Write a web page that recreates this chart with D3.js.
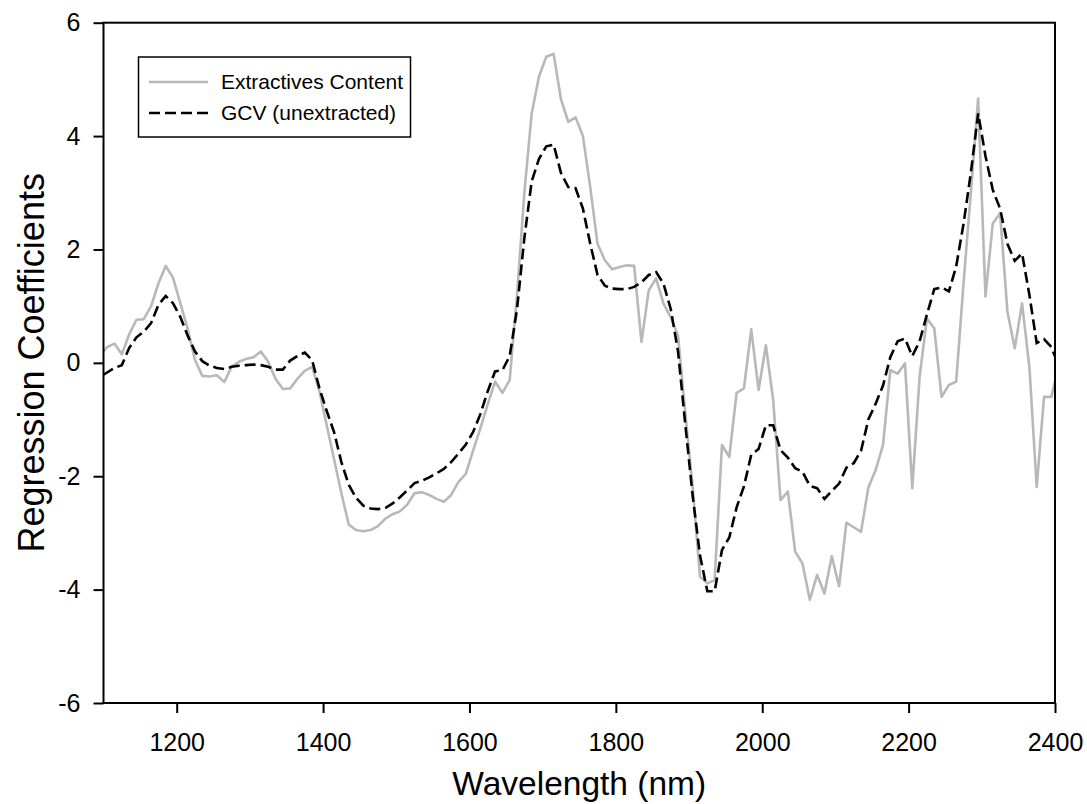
<!DOCTYPE html>
<html>
<head>
<meta charset="utf-8">
<script src="https://cdn.jsdelivr.net/npm/d3@7"></script>
<style>
  body { margin: 0; background: #fff; }
  text { font-family: "Liberation Sans", Arial, sans-serif; }
</style>
</head>
<body>
<div id="chart"></div>
<script>
// wavelengths (nm): endpoints plus samples every 10 nm
const wavelengths = [1100].concat(d3.range(1105, 2400, 10), [2400]);

const extractives = [
  0.20, 0.28, 0.34, 0.15, 0.50, 0.76, 0.77, 1.00, 1.40, 1.71, 1.50,
  1.05, 0.60, 0.05, -0.23, -0.24, -0.22, -0.34, -0.07, 0.02, 0.07,
  0.10, 0.20, 0.02, -0.28, -0.46, -0.45, -0.28, -0.14, -0.07, -0.50,
  -1.10, -1.70, -2.30, -2.85, -2.95, -2.97, -2.95, -2.88, -2.75, -2.67,
  -2.62, -2.50, -2.30, -2.28, -2.33, -2.40, -2.45, -2.33, -2.10, -1.96,
  -1.55, -1.15, -0.73, -0.33, -0.53, -0.30, 1.20, 3.00, 4.40, 5.05,
  5.40, 5.45, 4.65, 4.25, 4.33, 4.00, 3.10, 2.10, 1.81, 1.65,
  1.69, 1.72, 1.71, 0.37, 1.28, 1.49, 1.05, 0.80, 0.48, -0.90,
  -2.20, -3.77, -3.89, -3.83, -1.45, -1.66, -0.53, -0.45, 0.59, -0.48,
  0.31, -0.66, -2.42, -2.27, -3.33, -3.54, -4.18, -3.74, -4.07, -3.41,
  -3.94, -2.82, -2.90, -2.98, -2.20, -1.89, -1.45, -0.13, -0.19, -0.01,
  -2.21, -0.25, 0.78, 0.61, -0.60, -0.39, -0.33, 1.40, 3.00, 4.66,
  1.17, 2.46, 2.64, 0.90, 0.26, 1.05, -0.07, -2.19, -0.60, -0.60,
  -0.33
];

const gcv = [
  -0.21, -0.17, -0.09, -0.04, 0.26, 0.45, 0.55, 0.70, 1.02, 1.18, 1.05,
  0.81, 0.48, 0.20, 0.03, -0.05, -0.09, -0.11, -0.07, -0.05, -0.04,
  -0.03, -0.04, -0.07, -0.12, -0.12, 0.04, 0.12, 0.18, 0.05, -0.45,
  -0.85, -1.22, -1.75, -2.15, -2.38, -2.52, -2.57, -2.58, -2.56, -2.48,
  -2.37, -2.25, -2.12, -2.08, -2.02, -1.95, -1.87, -1.75, -1.60, -1.44,
  -1.22, -0.90, -0.50, -0.15, -0.13, 0.12, 0.95, 2.20, 3.20, 3.60,
  3.82, 3.85, 3.35, 3.10, 3.08, 2.72, 2.10, 1.55, 1.36, 1.31,
  1.30, 1.30, 1.34, 1.42, 1.55, 1.60, 1.40, 0.95, 0.20, -1.10,
  -2.35, -3.40, -4.03, -4.03, -3.30, -3.08, -2.55, -2.18, -1.62, -1.52,
  -1.10, -1.10, -1.54, -1.67, -1.86, -1.92, -2.17, -2.21, -2.40, -2.26,
  -2.13, -1.85, -1.77, -1.55, -1.00, -0.72, -0.40, 0.10, 0.38, 0.43,
  0.12, 0.38, 0.85, 1.30, 1.33, 1.26, 1.70, 2.45, 3.35, 4.40,
  3.65, 3.05, 2.72, 2.10, 1.80, 1.93, 1.20, 0.35, 0.42, 0.28,
  0.11
];

const xTicks = [1200, 1400, 1600, 1800, 2000, 2200, 2400];
const yTicks = [-6, -4, -2, 0, 2, 4, 6];
const seriesNames = ['Extractives Content', 'GCV (unextracted)'];

const width = 1087;
const height = 804;
const margin = {left: 103.5, right: 32, top: 22.7, bottom: 101};

const svg = d3.select('#chart')
  .append('svg')
  .attr('width', width)
  .attr('height', height);

const x = d3.scaleLinear()
  .domain([1100, 2400])
  .range([margin.left, width - margin.right]);

const y = d3.scaleLinear()
  .domain([-6, 6])
  .range([height - margin.bottom, margin.top]);

svg.append('defs').append('clipPath')
  .attr('id', 'plot')
  .append('rect')
  .attr('x', x(1100))
  .attr('y', y(6))
  .attr('width', x(2400) - x(1100))
  .attr('height', y(-6) - y(6));

const line = d3.line()
  .x(d => x(d[0]))
  .y(d => y(d[1]));

const g = svg.append('g').attr('clip-path', 'url(#plot)');

g.append('path')
  .datum(wavelengths.map((w, i) => [w, extractives[i]]))
  .attr('d', line)
  .attr('fill', 'none')
  .attr('stroke', '#b8b8b8')
  .attr('stroke-width', 2.6)
  .attr('stroke-linejoin', 'round');

g.append('path')
  .datum(wavelengths.map((w, i) => [w, gcv[i]]))
  .attr('d', line)
  .attr('fill', 'none')
  .attr('stroke', '#000')
  .attr('stroke-width', 2.6)
  .attr('stroke-dasharray', '11,5');

// frame
svg.append('rect')
  .attr('x', x(1100))
  .attr('y', y(6))
  .attr('width', x(2400) - x(1100))
  .attr('height', y(-6) - y(6))
  .attr('fill', 'none')
  .attr('stroke', '#000')
  .attr('stroke-width', 2);

const xAxis = svg.append('g')
  .attr('transform', `translate(0,${y(-6)})`)
  .call(d3.axisBottom(x).tickValues(xTicks).tickSize(10).tickPadding(20).tickFormat(d => d));

const yAxis = svg.append('g')
  .attr('transform', `translate(${x(1100)},0)`)
  .call(d3.axisLeft(y).tickValues(yTicks).tickSize(10).tickPadding(13).tickFormat(d => d));

[xAxis, yAxis].forEach(a => {
  a.select('.domain').remove();
  a.selectAll('line').attr('stroke', '#000').attr('stroke-width', 2);
  a.selectAll('text')
    .attr('font-size', 25)
    .attr('fill', '#000')
    .style('font-family', '"Liberation Sans", Arial, sans-serif');
});

svg.append('text')
  .attr('x', (x(1100) + x(2400)) / 2)
  .attr('y', 795)
  .attr('text-anchor', 'middle')
  .attr('font-size', 33.5)
  .text('Wavelength (nm)');

svg.append('text')
  .attr('transform', `translate(44,${(y(6) + y(-6)) / 2}) rotate(-90)`)
  .attr('text-anchor', 'middle')
  .attr('font-size', 36)
  .text('Regression Coefficients');

// legend
const legend = svg.append('g');
legend.append('rect')
  .attr('x', 138.5)
  .attr('y', 57)
  .attr('width', 272)
  .attr('height', 80)
  .attr('fill', '#fff')
  .attr('stroke', '#000')
  .attr('stroke-width', 1.5);

seriesNames.forEach((name, i) => {
  const ly = 82 + i * 31;
  legend.append('line')
    .attr('x1', 149).attr('x2', 208)
    .attr('y1', ly).attr('y2', ly)
    .attr('stroke', i === 0 ? '#b8b8b8' : '#000')
    .attr('stroke-width', 2.6)
    .attr('stroke-dasharray', i === 0 ? null : '11,5');
  legend.append('text')
    .attr('x', 221)
    .attr('y', ly + 7)
    .attr('font-size', 21)
    .text(name);
});
</script>
</body>
</html>
